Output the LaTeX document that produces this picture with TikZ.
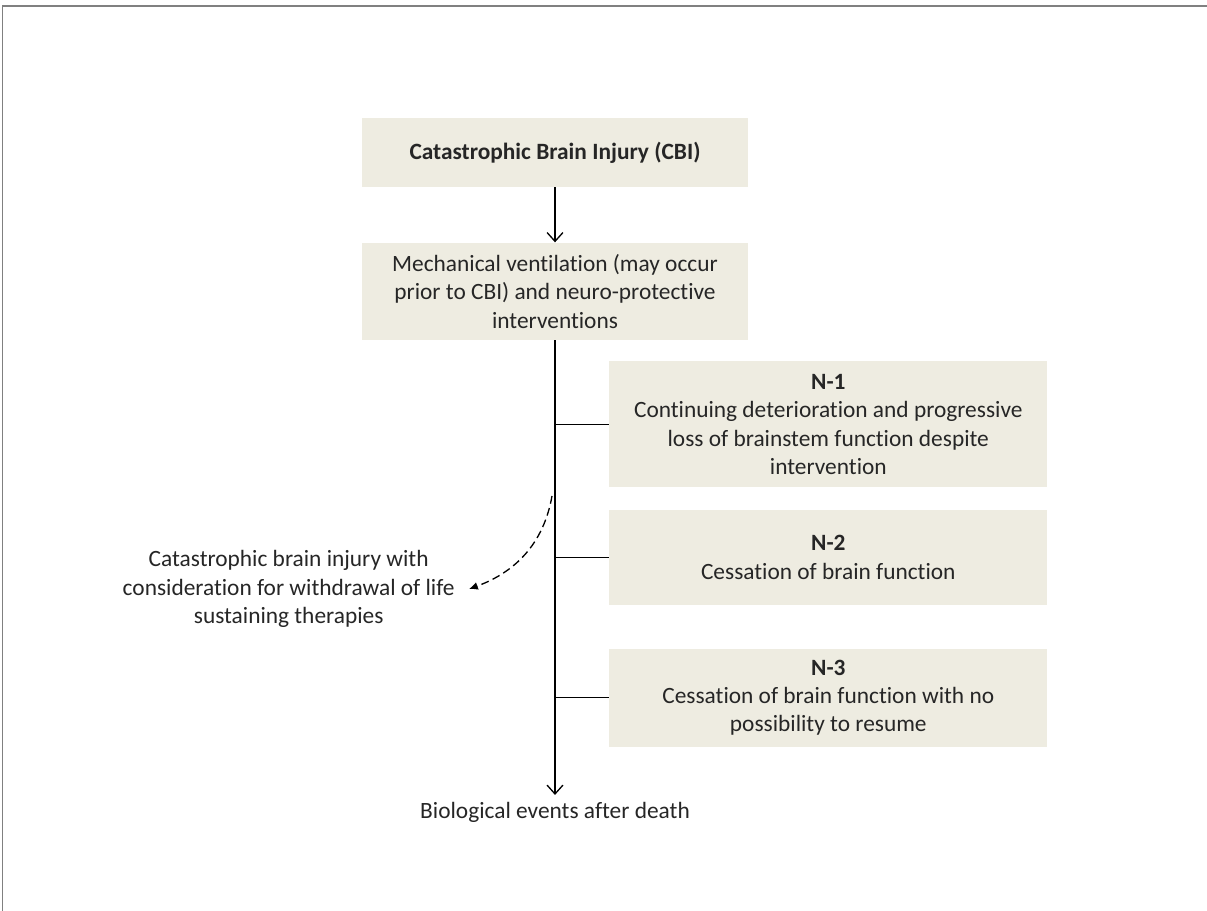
\documentclass[tikz,border=0pt]{standalone}
\usepackage{fontspec}
\setmainfont{Carlito}[Ligatures=NoCommon]
\usetikzlibrary{positioning}
\usetikzlibrary{arrows.meta}
\definecolor{boxfill}{RGB}{238,236,225}
\definecolor{txt}{RGB}{38,38,38}

\begin{document}
\begin{tikzpicture}[
  x=0.02cm, y=0.02cm,
  every node/.style={font=\fontsize{13.3}{16.2}\selectfont, text=txt},
  box/.style={fill=boxfill, align=center, inner sep=0pt, minimum width=7.72cm},
  nbox/.style={fill=boxfill, align=center, inner sep=0pt, minimum width=8.76cm},
  note/.style={align=center, inner sep=1pt},
  link/.style={line width=0.75pt},
  >={Straight Barb[length=5pt,width=9pt]}
]
\useasboundingbox (0,0) rectangle (1207,-911);
\draw[gray, line width=0.04cm] (1207,-6) -- (2.5,-6) -- (2.5,-911);

\node[box, minimum height=1.38cm] (cbi) at (555,-152.5) {\textbf{Catastrophic Brain Injury (CBI)}};
\node[box, minimum height=1.94cm, below=1.1cm of cbi] (vent) {Mechanical ventilation (may occur\\prior to CBI) and neuro-protective\\interventions};
\node[nbox, minimum height=2.52cm, below right=0.42cm and 1.08cm of vent.south] (n1) {\textbf{N-1}\\Continuing deterioration and progressive\\loss of brainstem function despite\\intervention};
\node[nbox, minimum height=1.9cm, below=0.44cm of n1] (n2) {\textbf{N-2}\\Cessation of brain function};
\node[nbox, minimum height=1.96cm, below=0.86cm of n2] (n3) {\textbf{N-3}\\Cessation of brain function with no\\possibility to resume};
\node[note, inner ysep=4pt, below=9.1cm of vent.south] (bio) {Biological events after death};
\node[note, inner xsep=8pt, left=2.8cm of n2.west, yshift=-0.63cm] (wlst) {Catastrophic brain injury with\\consideration for withdrawal of life\\sustaining therapies};
\coordinate[below left=3.12cm and 0.06cm of vent.south] (wdash);

\draw[link, ->] (cbi) -- (vent);
\draw[link, ->] (vent.south) -- (bio.north);
\foreach \n in {n1,n2,n3}
  \draw[link] (\n.west) -- (\n.west -| vent.south);
\draw[link, dash pattern=on 4.5pt off 2.5pt, -{Latex[length=5pt,width=4.5pt]}] (wdash) to[out=-100,in=20] (wlst.east);
\end{tikzpicture}
\end{document}
